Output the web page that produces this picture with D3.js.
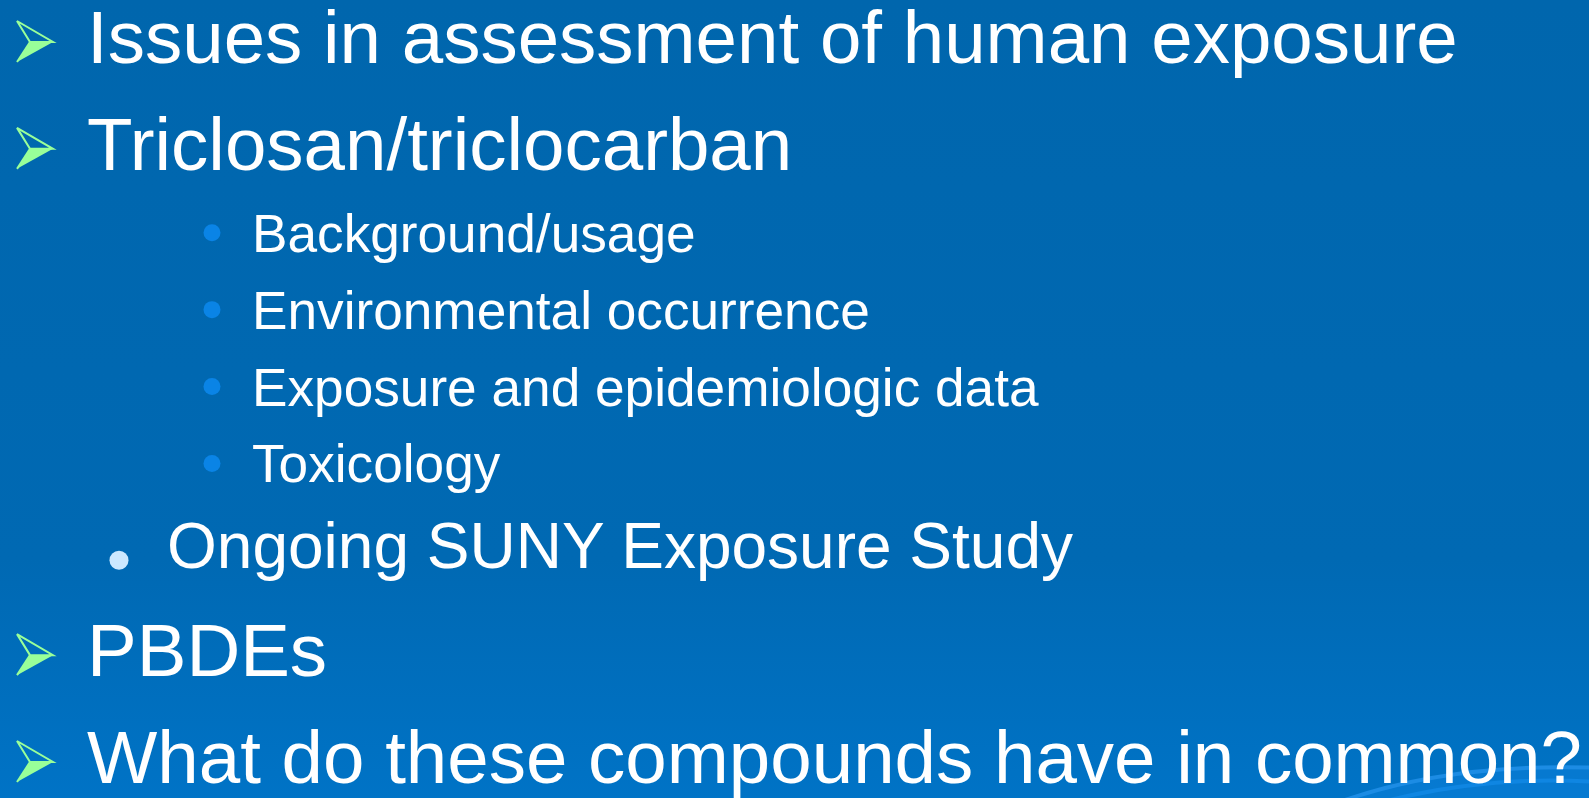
<!DOCTYPE html>
<html>
<head>
<meta charset="utf-8">
<script src="https://cdn.jsdelivr.net/npm/d3@7"></script>
<style>
  html, body { margin: 0; padding: 0; overflow: hidden; background: #0068b0; }
</style>
</head>
<body>
<svg id="slide" width="1589" height="798"></svg>
<script>
// slide content
const itemTexts = [
    "Issues in assessment of human exposure",
    "Triclosan/triclocarban",
    "Background/usage",
    "Environmental occurrence",
    "Exposure and epidemiologic data",
    "Toxicology",
    "Ongoing SUNY Exposure Study",
    "PBDEs",
    "What do these compounds have in common?"
];
const itemLevels = [0, 0, 2, 2, 2, 2, 1, 0, 0];

function drawSlide(containerId) {
    const svg = d3.select(`#${containerId}`);
    const width = 1589, height = 798;

    const defs = svg.append("defs");
    const grad = defs.append("linearGradient")
        .attr("id", "bg").attr("x1", 0).attr("y1", 0).attr("x2", 0).attr("y2", 1);
    grad.append("stop").attr("offset", "0%").attr("stop-color", "#0066ad");
    grad.append("stop").attr("offset", "70%").attr("stop-color", "#0069b3");
    grad.append("stop").attr("offset", "100%").attr("stop-color", "#0073c6");

    svg.append("rect").attr("width", width).attr("height", height).attr("fill", "url(#bg)");

    // swoosh in the bottom right corner
    svg.append("path")
        .attr("d", "M1340,800 Q1450,762 1600,767 L1600,800 Z")
        .attr("fill", "#0a7fd8").attr("opacity", 0.6);
    svg.append("path")
        .attr("d", "M1345,800 Q1455,762 1600,768")
        .attr("fill", "none").attr("stroke", "#1c8ce4").attr("stroke-width", 4);
    svg.append("path")
        .attr("d", "M1390,800 Q1490,775 1600,782")
        .attr("fill", "none").attr("stroke", "#0f86e2").attr("stroke-width", 4);

    // per-level layout: space above/below the baseline, font, indent
    const above = { 0: 77, 1: 61, 2: 52 };
    const below = { 0: 30, 1: 31, 2: 25 };
    const fontSize = { 0: 74.5, 1: 64, 2: 53.2 };
    const textX = { 0: 87, 1: 167, 2: 252 };

    const items = itemTexts.map((t, i) => ({ text: t, level: itemLevels[i] }));
    let acc = 0;
    items.forEach((d, i) => {
        if (i > 0) acc += below[items[i - 1].level] + above[d.level];
        d.pos = acc;
    });

    const yScale = d3.scaleLinear()
        .domain([0, acc])
        .range([63, 783]);

    const g = svg.append("g");

    const rows = g.selectAll("g.row")
        .data(items)
        .enter()
        .append("g")
        .attr("class", "row")
        .attr("transform", d => `translate(0,${yScale(d.pos)})`);

    rows.append("text")
        .attr("x", d => textX[d.level])
        .attr("y", 0)
        .attr("font-family", "'Liberation Sans', Arial, sans-serif")
        .attr("font-size", d => fontSize[d.level])
        .attr("fill", "#ffffff")
        .text(d => d.text);

    // arrow bullets for top level
    const arrows = rows.filter(d => d.level === 0);
    arrows.append("path")
        .attr("d", "M30,-21 L53,-21 L17,-1 Z")
        .attr("fill", "#99ff99");
    arrows.append("path")
        .attr("d", "M17,-42 L53,-21 L30,-21 Z")
        .attr("fill", "none")
        .attr("stroke", "#99ff99")
        .attr("stroke-width", 2)
        .attr("stroke-linejoin", "miter");
    arrows.append("path")
        .attr("d", "M30,-21 L17,-1")
        .attr("stroke", "#99ff99")
        .attr("stroke-width", 2);

    // round bullets
    rows.filter(d => d.level === 2).append("circle")
        .attr("cx", 212).attr("cy", -19).attr("r", 8.5)
        .attr("fill", "#0a84e6");
    rows.filter(d => d.level === 1).append("circle")
        .attr("cx", 119).attr("cy", -8).attr("r", 9.5)
        .attr("fill", "#cce8ff");
}

drawSlide("slide");
</script>
</body>
</html>
